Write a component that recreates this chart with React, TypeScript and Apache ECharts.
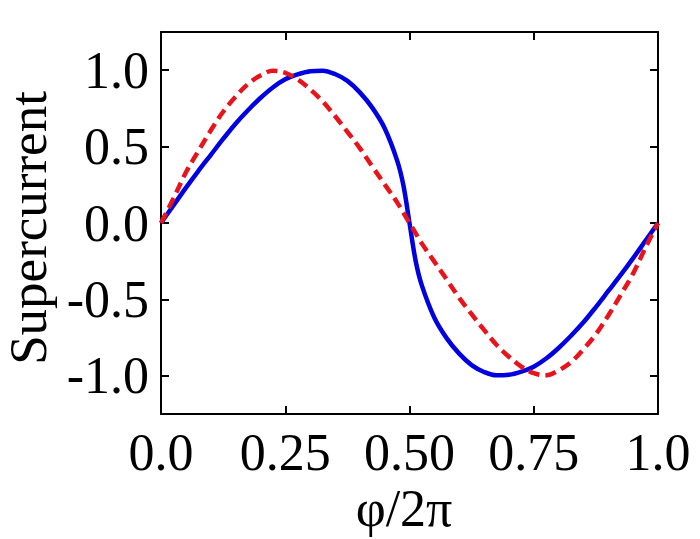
import React, { useEffect, useRef } from "react";
import * as echarts from "echarts";

const phase = [
  0, 0.025, 0.05, 0.075, 0.1, 0.125, 0.15, 0.175, 0.2, 0.225, 0.25, 0.275, 0.3, 0.325, 0.35, 0.375, 0.4, 0.425, 0.45, 0.475,
  0.4875, 0.5, 0.5125,
  0.525, 0.55, 0.575, 0.6, 0.625, 0.65, 0.675, 0.7, 0.725, 0.75, 0.775, 0.8, 0.825, 0.85, 0.875, 0.9, 0.925, 0.95, 0.975, 1,
];

const blueCurrent = [
  0, 0.115, 0.23, 0.34, 0.445, 0.55, 0.65, 0.738, 0.818, 0.887, 0.94, 0.972, 0.993, 0.997, 0.975, 0.93, 0.855, 0.755, 0.62, 0.41,
  0.25, 0, -0.25,
  -0.41, -0.62, -0.755, -0.855, -0.93, -0.975, -0.997, -0.993, -0.972, -0.94, -0.887, -0.818, -0.738, -0.65, -0.55, -0.445, -0.34, -0.23, -0.115, 0,
];

const redCurrent = [
  0, 0.16, 0.33, 0.47, 0.605, 0.728, 0.826, 0.91, 0.965, 0.997, 0.983, 0.94, 0.875, 0.797, 0.7, 0.597, 0.49, 0.37, 0.253, 0.135,
  0.068, 0, -0.068,
  -0.135, -0.253, -0.37, -0.49, -0.597, -0.7, -0.797, -0.875, -0.94, -0.983, -0.997, -0.965, -0.91, -0.826, -0.728, -0.605, -0.47, -0.33, -0.16, 0,
];

const xTickValues = [0, 0.25, 0.5, 0.75, 1];
const xTickLabels = ["0.0", "0.25", "0.50", "0.75", "1.0"];
const yTickValues = [-1, -0.5, 0, 0.5, 1];
const yTickLabels = ["-1.0", "-0.5", "0.0", "0.5", "1.0"];

const xTitle = "φ/2π";
const yTitle = "Supercurrent";

const FONT = '"Liberation Serif", "Times New Roman", serif';
const FS = 52;

export default function App() {
  const ref = useRef<HTMLDivElement>(null);

  useEffect(() => {
    const chart = echarts.init(ref.current!, null, { renderer: "svg" });

    const axisLine = { show: true, onZero: false, lineStyle: { color: "#000", width: 2 } };
    const axisTick = { show: true, inside: true, length: 8, lineStyle: { color: "#000", width: 2 } };

    const xLabel = (v: number) => {
      const i = xTickValues.findIndex((t) => Math.abs(t - v) < 1e-6);
      return i >= 0 ? xTickLabels[i] : "";
    };
    const yLabel = (v: number) => {
      const i = yTickValues.findIndex((t) => Math.abs(t - v) < 1e-6);
      return i >= 0 ? yTickLabels[i] : "";
    };

    const option: any = {
      animation: false,
      backgroundColor: "#fff",
      grid: { left: 161, right: 42, top: 32, bottom: 125, containLabel: false },
      xAxis: [
        {
          type: "value",
          min: 0,
          max: 1,
          interval: 0.25,
          position: "bottom",
          axisLine,
          axisTick: { ...axisTick, customValues: xTickValues },
          axisLabel: {
            customValues: xTickValues,
            formatter: xLabel,
            fontSize: FS,
            fontFamily: FONT,
            color: "#000",
            margin: 12,
            showMinLabel: true,
            showMaxLabel: true,
          },
          splitLine: { show: false },
        },
        {
          type: "value",
          min: 0,
          max: 1,
          interval: 0.25,
          position: "top",
          axisLine,
          axisTick: { ...axisTick, customValues: xTickValues },
          axisLabel: { show: false },
          splitLine: { show: false },
        },
      ],
      yAxis: [
        {
          type: "value",
          min: -1.25,
          max: 1.25,
          position: "left",
          axisLine,
          axisTick: { ...axisTick, customValues: yTickValues },
          axisLabel: {
            customValues: yTickValues,
            formatter: yLabel,
            fontSize: FS,
            fontFamily: FONT,
            color: "#000",
            margin: 12,
          },
          splitLine: { show: false },
        },
        {
          type: "value",
          min: -1.25,
          max: 1.25,
          position: "right",
          axisLine,
          axisTick: { ...axisTick, customValues: yTickValues },
          axisLabel: { show: false },
          splitLine: { show: false },
        },
      ],
      series: [
        {
          type: "line",
          name: "blue",
          data: phase.map((p, i) => [p, blueCurrent[i]]),
          xAxisIndex: 0,
          yAxisIndex: 0,
          showSymbol: false,
          smooth: 0.35,
          lineStyle: { color: "#0000e0", width: 4.5, type: "solid" },
          z: 2,
        },
        {
          type: "line",
          name: "red",
          data: phase.map((p, i) => [p, redCurrent[i]]),
          xAxisIndex: 0,
          yAxisIndex: 0,
          showSymbol: false,
          smooth: 0.35,
          lineStyle: { color: "#e8141c", width: 4.5, type: [11, 6] },
          z: 3,
        },
      ],
      graphic: [
        {
          type: "text",
          x: 28,
          y: 228,
          rotation: Math.PI / 2,
          style: {
            text: yTitle,
            font: `53px ${FONT}`,
            fill: "#000",
            textAlign: "center",
            textVerticalAlign: "middle",
          },
        },
        {
          type: "text",
          x: 404,
          y: 508,
          style: {
            text: xTitle,
            font: `${FS}px ${FONT}`,
            fill: "#000",
            textAlign: "center",
            textVerticalAlign: "middle",
          },
        },
      ],
    };

    chart.setOption(option);
    return () => chart.dispose();
  }, []);

  return (
    <div
      ref={ref}
      style={{ position: "absolute", left: 0, top: 0, width: 700, height: 539 }}
    />
  );
}
